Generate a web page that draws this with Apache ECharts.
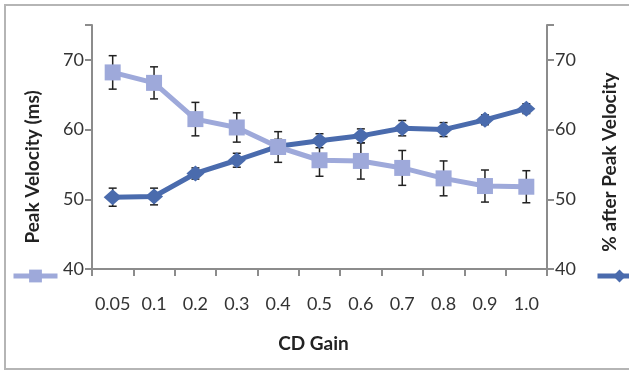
<!DOCTYPE html>
<html>
<head>
<meta charset="utf-8">
<script src="https://cdn.jsdelivr.net/npm/echarts@6/dist/echarts.min.js"></script>
<style>
  html, body { margin: 0; padding: 0; background: #fff; }
  #chart { width: 629px; height: 371px; }
</style>
</head>
<body>
<div id="chart"></div>
<script>
// CD gain levels
var gains = ['0.05', '0.1', '0.2', '0.3', '0.4', '0.5', '0.6', '0.7', '0.8', '0.9', '1.0'];

// Peak velocity (ms), left axis, with +/- error
var peakVelocity = [68.2, 66.7, 61.5, 60.3, 57.5, 55.6, 55.5, 54.5, 53.0, 51.9, 51.8];
var peakErr = [2.4, 2.3, 2.4, 2.1, 2.2, 2.3, 2.6, 2.5, 2.5, 2.3, 2.3];

// % after peak velocity, right axis, with +/- error
var afterPeak = [50.3, 50.4, 53.7, 55.6, 57.6, 58.4, 59.1, 60.2, 60.0, 61.4, 63.0];
var afterErr = [1.3, 1.2, 0.8, 1.0, 1.0, 1.0, 1.0, 1.1, 1.0, 0.7, 0.7];

var yTicks = [40, 50, 60, 70];
var leftTitle = 'Peak Velocity (ms)';
var rightTitle = '% after Peak Velocity';

var lightBlue = '#9ea9da';
var darkBlue = '#4a6bad';
var font = 'Lato, "Open Sans", sans-serif';

// error bar custom series data: [index, low, high]
function errData(vals, errs) {
  return vals.map(function (v, i) { return [i, v - errs[i], v + errs[i]]; });
}

function renderErr(params, api) {
  var x = api.value(0);
  var lo = api.coord([x, api.value(1)]);
  var hi = api.coord([x, api.value(2)]);
  var cap = 4;
  var style = { stroke: '#222', lineWidth: 1.5 };
  return {
    type: 'group',
    children: [
      { type: 'line', shape: { x1: hi[0], y1: hi[1], x2: lo[0], y2: lo[1] }, style: style },
      { type: 'line', shape: { x1: hi[0] - cap, y1: hi[1], x2: hi[0] + cap, y2: hi[1] }, style: style },
      { type: 'line', shape: { x1: lo[0] - cap, y1: lo[1], x2: lo[0] + cap, y2: lo[1] }, style: style }
    ]
  };
}

var chart = echarts.init(document.getElementById('chart'));

var axisLineStyle = { color: '#8c8c8c', width: 2 };

var yAxisBase = {
  type: 'value',
  min: yTicks[0],
  max: 75,
  interval: 10,
  axisLine: { show: true, lineStyle: axisLineStyle },
  axisTick: { show: true, length: 7, lineStyle: axisLineStyle },
  splitLine: { show: false },
  axisLabel: {
    fontFamily: font, fontSize: 18, color: '#333', margin: 8,
    formatter: function (v) { return yTicks.indexOf(v) >= 0 ? String(v) : ''; }
  }
};

// rotated axis titles (sit a bit below the middle of the axis, as in the original)
function axisTitle(text, x, y) {
  return {
    type: 'text', x: x, y: y, rotation: Math.PI / 2, silent: true,
    style: {
      text: text, fill: '#222',
      fontFamily: font, fontSize: 19, fontWeight: 'bold',
      align: 'center', verticalAlign: 'middle'
    }
  };
}

var option = {
  animation: false,
  backgroundColor: '#fff',
  graphic: [
    {
      type: 'rect',
      shape: { x: 5, y: 5, width: 640, height: 364 },
      style: { fill: 'none', stroke: '#b5b5b5', lineWidth: 2 },
      silent: true
    },
    axisTitle(leftTitle, 33, 167),
    axisTitle(rightTitle, 610, 162)
  ],
  legend: [
    {
      data: [leftTitle],
      left: 6, top: 263,
      itemWidth: 44, itemHeight: 16,
      lineStyle: { width: 5 },
      formatter: function () { return ''; },
      selectedMode: false
    },
    {
      data: [rightTitle],
      left: 590, top: 263,
      itemWidth: 44, itemHeight: 16,
      lineStyle: { width: 5 },
      formatter: function () { return ''; },
      selectedMode: false
    }
  ],
  grid: { left: 92, right: 82, top: 25, bottom: 102 },
  xAxis: {
    type: 'category',
    data: gains,
    boundaryGap: true,
    name: 'CD Gain',
    nameLocation: 'middle',
    nameGap: 65,
    nameTextStyle: { fontFamily: font, fontSize: 19, fontWeight: 'bold', color: '#222', padding: [0, 12, 0, 0] },
    axisLine: { lineStyle: axisLineStyle },
    axisTick: { show: true, length: 7, lineStyle: axisLineStyle, alignWithLabel: false },
    axisLabel: { fontFamily: font, fontSize: 18, color: '#333', margin: 26, interval: 0 }
  },
  yAxis: [
    Object.assign({}, yAxisBase, { position: 'left' }),
    Object.assign({}, yAxisBase, { position: 'right' })
  ],
  series: [
    {
      type: 'custom',
      yAxisIndex: 1,
      renderItem: renderErr,
      data: errData(afterPeak, afterErr),
      z: 1
    },
    {
      type: 'custom',
      yAxisIndex: 0,
      renderItem: renderErr,
      data: errData(peakVelocity, peakErr),
      z: 1
    },
    {
      name: rightTitle,
      type: 'line',
      yAxisIndex: 1,
      data: afterPeak,
      symbol: 'diamond',
      symbolSize: [18, 16],
      lineStyle: { color: darkBlue, width: 5 },
      itemStyle: { color: darkBlue },
      z: 2
    },
    {
      name: leftTitle,
      type: 'line',
      yAxisIndex: 0,
      data: peakVelocity,
      symbol: 'rect',
      symbolSize: 16,
      lineStyle: { color: lightBlue, width: 5 },
      itemStyle: { color: lightBlue },
      z: 3
    }
  ]
};

chart.setOption(option);
</script>
</body>
</html>
